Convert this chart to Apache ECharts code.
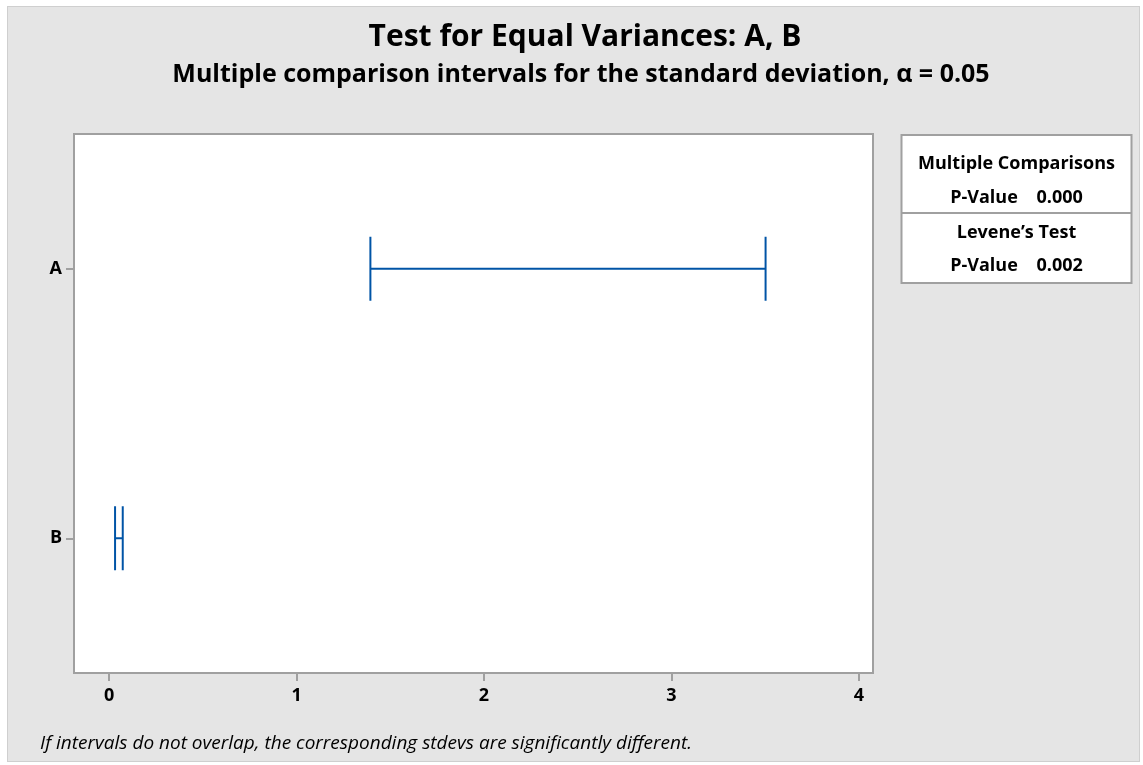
<!DOCTYPE html>
<html>
<head>
<meta charset="utf-8">
<script src="https://cdn.jsdelivr.net/npm/echarts@6/dist/echarts.min.js"></script>
<style>
html, body { margin: 0; padding: 0; background: #fff; }
#frame { position: absolute; left: 7px; top: 6px; width: 1131px; height: 754px; border: 1px solid #cfcfcf; background: #e5e5e5; }
#main { position: absolute; left: 0; top: 0; width: 1143px; height: 765px; }
</style>
</head>
<body>
<div id="frame"></div>
<div id="main"></div>
<script>
// interval data
var groups = ['A', 'B'];
var lower = [1.394, 0.032];
var upper = [3.502, 0.073];
var xTicks = [0, 1, 2, 3, 4];
var pMultiple = '0.000';
var pLevene = '0.002';

var FONT = '"Open Sans", "Noto Sans", sans-serif';
var BLUE = '#0054a6';

var intervalData = [];
for (var i = 0; i < groups.length; i++) {
    intervalData.push([i, lower[i], upper[i]]);
}

function renderInterval(params, api) {
    var cat = api.value(0);
    var p1 = api.coord([api.value(1), cat]);
    var p2 = api.coord([api.value(2), cat]);
    var h = 32;
    var style = {stroke: BLUE, lineWidth: 2, fill: null};
    return {
        type: 'group',
        children: [
            {type: 'line', shape: {x1: p1[0], y1: p1[1], x2: p2[0], y2: p2[1]}, style: style},
            {type: 'line', shape: {x1: p1[0], y1: p1[1] - h, x2: p1[0], y2: p1[1] + h}, style: style},
            {type: 'line', shape: {x1: p2[0], y1: p2[1] - h, x2: p2[0], y2: p2[1] + h}, style: style}
        ]
    };
}

var chart = echarts.init(document.getElementById('main'));
var option = {
    backgroundColor: 'transparent',
    animation: false,
    title: [
        {
            text: 'Test for Equal Variances: A, B',
            left: 580,
            textAlign: 'center',
            top: 17,
            textStyle: {fontFamily: FONT, fontWeight: 'bold', fontSize: 30, color: '#000'}
        },
        {
            text: 'Multiple comparison intervals for the standard deviation, α = 0.05',
            left: 576,
            textAlign: 'center',
            top: 57,
            textStyle: {fontFamily: FONT, fontWeight: 'bold', fontSize: 25, color: '#000'}
        }
    ],
    grid: {
        left: 74,
        right: 270,
        top: 134,
        bottom: 92,
        show: true,
        backgroundColor: '#fff',
        borderColor: '#a0a0a0',
        borderWidth: 2
    },
    xAxis: {
        type: 'value',
        min: -0.187,
        max: 4.075,
        splitLine: {show: false},
        axisLine: {show: false, onZero: false},
        axisTick: {show: true, length: 8, customValues: xTicks, lineStyle: {color: '#a0a0a0', width: 2}},
        axisLabel: {customValues: xTicks, margin: 14, color: '#000', fontFamily: FONT, fontWeight: 'bold', fontSize: 18}
    },
    yAxis: {
        type: 'category',
        data: groups,
        inverse: true,
        splitLine: {show: false},
        axisLine: {show: false, onZero: false},
        axisTick: {show: true, alignWithLabel: true, length: 8, lineStyle: {color: '#a0a0a0', width: 2}},
        axisLabel: {margin: 12, color: '#000', fontFamily: FONT, fontWeight: 'bold', fontSize: 18}
    },
    graphic: [
        {
            type: 'group',
            left: 899,
            top: 134,
            children: [
                {type: 'rect', shape: {x: 0, y: 0, width: 230, height: 148}, style: {fill: '#fff', stroke: '#a0a0a0', lineWidth: 2}},
                {type: 'line', shape: {x1: 0, y1: 78, x2: 230, y2: 78}, style: {stroke: '#a0a0a0', lineWidth: 2}},
                {type: 'text', x: 115, y: 29, style: {text: 'Multiple Comparisons', align: 'center', verticalAlign: 'middle', font: 'bold 18px ' + FONT, fill: '#000'}},
                {type: 'text', x: 115, y: 63, style: {text: 'P-Value    ' + pMultiple, align: 'center', verticalAlign: 'middle', font: 'bold 18px ' + FONT, fill: '#000'}},
                {type: 'text', x: 115, y: 98, style: {text: 'Levene\u2019s Test', align: 'center', verticalAlign: 'middle', font: 'bold 18px ' + FONT, fill: '#000'}},
                {type: 'text', x: 115, y: 131, style: {text: 'P-Value    ' + pLevene, align: 'center', verticalAlign: 'middle', font: 'bold 18px ' + FONT, fill: '#000'}}
            ]
        },
        {
            type: 'text',
            left: 40,
            top: 734,
            style: {text: 'If intervals do not overlap, the corresponding stdevs are significantly different.', font: 'italic 19px ' + FONT, fill: '#000'}
        }
    ],
    series: [
        {
            type: 'custom',
            renderItem: renderInterval,
            encode: {x: [1, 2], y: 0},
            data: intervalData
        }
    ]
};
chart.setOption(option);
</script>
</body>
</html>
